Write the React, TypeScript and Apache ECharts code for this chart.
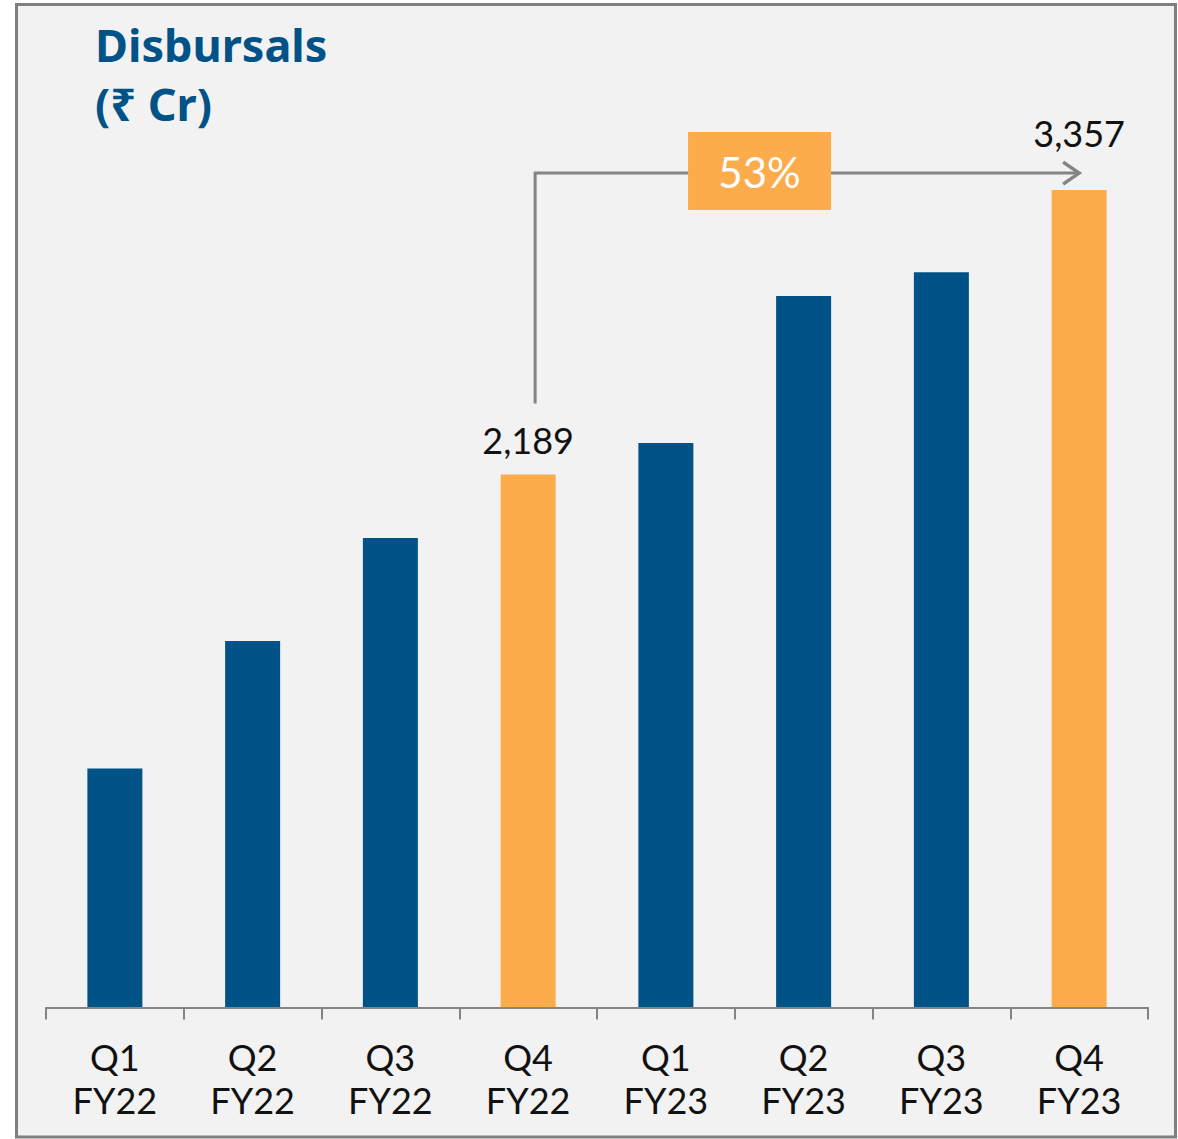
import React, { useEffect, useRef } from "react";
import * as echarts from "echarts";

const categories = ["Q1\nFY22", "Q2\nFY22", "Q3\nFY22", "Q4\nFY22", "Q1\nFY23", "Q2\nFY23", "Q3\nFY23", "Q4\nFY23"];
const values = [982, 1505, 1928, 2189, 2318, 2922, 3020, 3357];
const highlighted = [false, false, false, true, false, false, false, true];
const titleLines = ["Disbursals", "(₹ Cr)"];
const growthLabel = "53%";

const BLUE = "#005287";
const ORANGE = "#FCAC4B";
const GRAY = "#848484";
const FONT = "Lato, 'Noto Sans', sans-serif";

export default function App() {
  const ref = useRef<HTMLDivElement>(null);

  useEffect(() => {
    if (!ref.current) return;
    const chart = echarts.init(ref.current, null, { renderer: "svg" });
    const option: any = {
      animation: false,
      backgroundColor: "#ffffff",
      grid: { left: 46, right: 30, top: 33.5, bottom: 131.5 },
      xAxis: {
        type: "category",
        data: categories,
        z: 4,
        axisLine: { show: true, lineStyle: { color: GRAY, width: 2 } },
        axisTick: { show: true, alignWithLabel: false, interval: 0, length: 12, lineStyle: { color: GRAY, width: 2 } },
        axisLabel: { fontSize: 36, lineHeight: 43, color: "#111", fontFamily: FONT, margin: 28 },
      },
      yAxis: { type: "value", min: 0, max: 4000, show: false },
      series: [
        {
          type: "bar",
          barWidth: 55,
          z: 3,
          data: values.map((v, i) => ({
            value: v,
            itemStyle: { color: highlighted[i] ? ORANGE : BLUE },
            label: highlighted[i]
              ? {
                  show: true,
                  position: "top",
                  distance: i === values.length - 1 ? 39 : 16,
                  formatter: (p: any) => Number(p.value).toLocaleString("en-US"),
                  fontSize: 36,
                  color: "#111",
                  fontFamily: FONT,
                }
              : { show: false },
          })),
        },
      ],
      graphic: [
        {
          type: "rect",
          z: -10,
          shape: { x: 16.5, y: 4.5, width: 1159, height: 1132.5 },
          style: { fill: "#f2f2f2", stroke: "#7f7f7f", lineWidth: 3 },
        },
        {
          type: "text",
          z: 5,
          x: 95,
          y: 44,
          style: { text: titleLines[0], fill: BLUE, font: "bold 45px 'Noto Sans', sans-serif", textVerticalAlign: "middle" },
        },
        {
          type: "text",
          z: 5,
          x: 95,
          y: 103,
          style: { text: titleLines[1], fill: BLUE, font: "bold 45px 'Noto Sans', sans-serif", textVerticalAlign: "middle" },
        },
      ],
    };
    chart.setOption(option);

    const iFrom = 3;
    const iTo = values.length - 1;
    const [x0, y0] = chart.convertToPixel({ seriesIndex: 0 }, [iFrom, values[iFrom]]) as number[];
    const [x1, y1] = chart.convertToPixel({ seriesIndex: 0 }, [iTo, values[iTo]]) as number[];
    const vx = x0 + 7;
    const yH = y1 - 17;
    const boxCx = x0 + 0.42 * (x1 - x0);
    chart.setOption({
      graphic: [
        ...option.graphic,
        {
          type: "polyline",
          z: 4,
          shape: { points: [[vx, y0 - 71], [vx, yH], [x1, yH]] },
          style: { stroke: GRAY, lineWidth: 3, fill: "none" },
        },
        {
          type: "polyline",
          z: 4,
          shape: { points: [[x1 - 16, yH - 11], [x1, yH], [x1 - 16, yH + 11]] },
          style: { stroke: GRAY, lineWidth: 3.5, fill: "none" },
        },
        {
          type: "rect",
          z: 5,
          shape: { x: boxCx - 71.5, y: yH - 41, width: 143, height: 78 },
          style: { fill: ORANGE },
        },
        {
          type: "text",
          z: 6,
          x: boxCx,
          y: yH - 1,
          style: { text: growthLabel, fill: "#ffffff", font: `42px ${FONT}`, textAlign: "center", textVerticalAlign: "middle" },
        },
      ],
    });

    return () => chart.dispose();
  }, []);

  return <div ref={ref} style={{ position: "absolute", left: 0, top: 0, width: 1178, height: 1139 }} />;
}
